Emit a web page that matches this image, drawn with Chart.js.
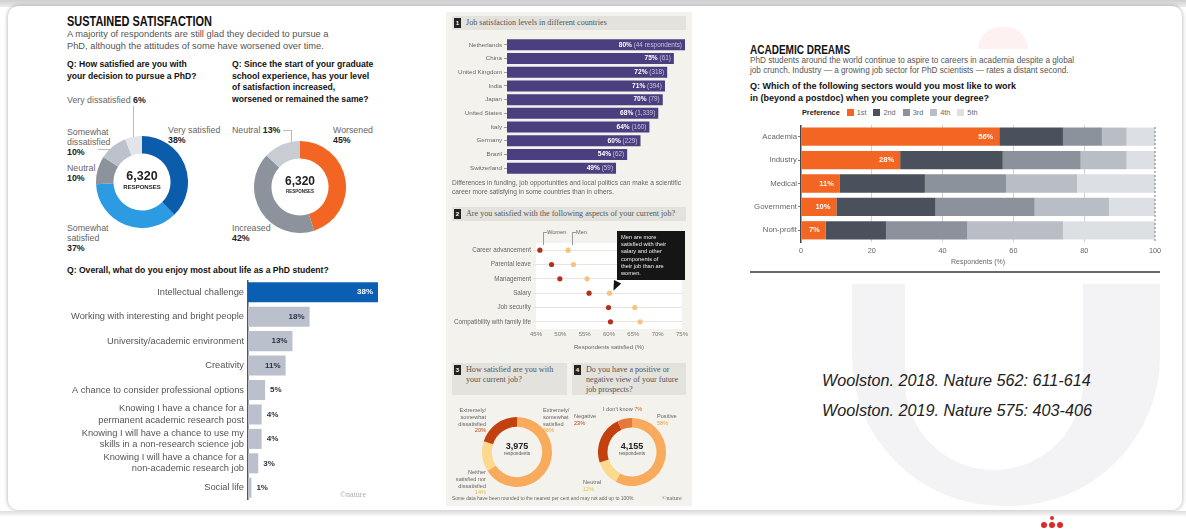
<!DOCTYPE html>
<html lang="en">
<head>
<meta charset="UTF-8">
<title>PhD satisfaction</title>
<script src="https://cdn.jsdelivr.net/npm/chart.js"></script>
<style>
  body { margin:0; width:1186px; height:531px; background:#fff; position:relative; overflow:hidden;
         font-family:"Liberation Sans", Arial, sans-serif; color:#222; }
  .abs { position:absolute; }
  .topband { left:0; top:0; width:1186px; height:7px; background:linear-gradient(#cfcfd2,#eee); }
  .card { left:8px; top:6px; width:1174px; height:504px; border-radius:10px; background:#fff;
          box-shadow:0 0 4px rgba(0,0,0,.35); }
  .bigtitle { font-family:"Liberation Sans",Arial,sans-serif; font-weight:bold; color:#111;
              transform-origin:left top; white-space:nowrap; }
  .sub { font-size:9.3px; line-height:11.7px; color:#555; white-space:nowrap; }
  .q { font-size:8.6px; line-height:11.5px; font-weight:bold; color:#111; white-space:nowrap; }
  .lab { font-size:8.8px; line-height:10.2px; color:#666; white-space:nowrap; }
  .lab b { color:#222; }
  .line { background:#bbb; }
  .centre { text-align:center; font-weight:bold; color:#222; }
  .mid { left:446px; top:12px; width:246px; height:494px; background:#f4f2ed; }
  .band { background:#e4e2dd; font-family:"Liberation Serif",serif; font-size:8.1px; line-height:10px; color:#555; white-space:nowrap; }
  .num { position:absolute; left:2px; top:2px; width:7px; height:10px; background:#222; color:#fff;
         font-size:6px; line-height:10px; text-align:center; font-family:"Liberation Sans",sans-serif; font-weight:bold; }
  .foot { font-size:6.6px; line-height:8.6px; color:#666; white-space:nowrap; }
  .tiny { font-size:5.6px; line-height:6.8px; color:#666; white-space:nowrap; }
  .callout { left:617px; top:231px; width:60px; height:43px; background:#151515; color:#eee;
             font-size:5.7px; line-height:7.2px; padding:3px 4px; white-space:nowrap; }
  .ref { font-style:italic; font-size:16.2px; color:#222; white-space:nowrap; }
  .sw { display:inline-block; width:7px; height:7px; margin:0 3px 0 7px; vertical-align:-1px; }
</style>
</head>
<body>
<div class="abs topband"></div>
<div class="abs card"></div>

<!-- faint logo watermark -->
<div class="abs" style="left:978px;top:27px;width:50px;height:22px;border-radius:25px 25px 0 0;background:#fdf1f1;"></div>
<div class="abs" style="left:852px;top:284px;width:308px;height:222px;border-radius:0 0 150px 150px;background:#f3f3f5;"></div>
<div class="abs" style="left:905px;top:284px;width:178px;height:186px;border-radius:0 0 90px 90px;background:#fff;"></div>

<!-- left panel -->
<div class="abs bigtitle" style="left:67px;top:12px;font-size:15px;transform:scaleX(0.73);">SUSTAINED SATISFACTION</div>
<div class="abs sub" style="left:67px;top:29px;">A majority of respondents are still glad they decided to pursue a<br>PhD, although the attitudes of some have worsened over time.</div>
<div class="abs q" style="left:67px;top:59px;">Q: How satisfied are you with<br>your decision to pursue a PhD?</div>
<div class="abs q" style="left:232px;top:59px;">Q: Since the start of your graduate<br>school experience, has your level<br>of satisfaction increased,<br>worsened or remained the same?</div>

<div class="abs lab" style="left:67px;top:95px;">Very dissatisfied <b>6%</b></div>
<div class="abs line" style="left:133px;top:106px;width:1px;height:42px;"></div>
<div class="abs lab" style="left:67px;top:127px;">Somewhat<br>dissatisfied<br><b>10%</b></div>
<div class="abs line" style="left:98px;top:149px;width:12px;height:1px;"></div>
<div class="abs lab" style="left:67px;top:163px;">Neutral<br><b>10%</b></div>
<div class="abs lab" style="left:67px;top:223px;">Somewhat<br>satisfied<br><b>37%</b></div>
<div class="abs lab" style="left:168px;top:125px;">Very satisfied<br><b>38%</b></div>

<div class="abs lab" style="left:232px;top:125px;">Neutral <b>13%</b></div>
<div class="abs line" style="left:283px;top:130px;width:8px;height:1px;"></div>
<div class="abs line" style="left:291px;top:130px;width:1px;height:12px;"></div>
<div class="abs lab" style="left:333px;top:125px;">Worsened<br><b>45%</b></div>
<div class="abs lab" style="left:232px;top:223px;">Increased<br><b>42%</b></div>

<canvas id="cSat" class="abs" width="92" height="92" style="left:96px;top:136px;"></canvas>
<div class="abs centre" style="left:112px;top:170px;width:60px;font-size:12.5px;line-height:13px;">6,320</div>
<div class="abs centre" style="left:112px;top:184px;width:60px;font-size:6px;">RESPONSES</div>
<canvas id="cChange" class="abs" width="92" height="92" style="left:254px;top:141px;"></canvas>
<div class="abs centre" style="left:270px;top:175px;width:60px;font-size:12px;line-height:13px;">6,320</div>
<div class="abs centre" style="left:270px;top:189px;width:60px;font-size:4.5px;">RESPONSES</div>

<div class="abs q" style="left:67px;top:265px;">Q: Overall, what do you enjoy most about life as a PhD student?</div>
<canvas id="cEnjoy" class="abs" width="318" height="220" style="left:60px;top:280px;"></canvas>
<div class="abs" style="left:340px;top:490px;font-family:'Liberation Serif',serif;font-size:8px;color:#aaa;">©nature</div>

<!-- middle panel -->
<div class="abs mid"></div>
<div class="abs band" style="left:452px;top:16px;width:220px;height:14px;padding-left:14px;line-height:14px;"><span class="num">1</span>Job satisfaction levels in different countries</div>
<canvas id="cCountry" class="abs" width="240" height="137" style="left:445px;top:38px;"></canvas>
<div class="abs foot" style="left:452px;top:179px;">Differences in funding, job opportunities and local politics can make a scientific<br>career more satisfying in some countries than in others.</div>

<div class="abs band" style="left:452px;top:207px;width:220px;height:14px;padding-left:14px;line-height:14px;"><span class="num">2</span>Are you satisfied with the following aspects of your current job?</div>
<canvas id="cAspect" class="abs" width="246" height="112" style="left:445px;top:243px;"></canvas>
<div class="abs tiny" style="left:547px;top:229px;">Women</div>
<div class="abs tiny" style="left:576px;top:229px;">Men</div>
<div class="abs line" style="left:543px;top:232px;width:4px;height:1px;background:#999;"></div>
<div class="abs line" style="left:543px;top:232px;width:1px;height:13px;background:#999;"></div>
<div class="abs line" style="left:572px;top:232px;width:4px;height:1px;background:#999;"></div>
<div class="abs line" style="left:572px;top:232px;width:1px;height:13px;background:#999;"></div>
<div class="abs callout">Men are more<br>satisfied with their<br>salary and other<br>components of<br>their job than are<br>women.</div>
<div class="abs" style="left:614px;top:280px;width:0;height:0;border-left:4px solid transparent;border-right:4px solid transparent;border-top:10px solid #151515;transform:rotate(25deg);transform-origin:top left;"></div>

<div class="abs band" style="left:452px;top:363px;width:101px;height:30px;padding:2px 0 0 14px;"><span class="num">3</span>How satisfied are you with<br>your current job?</div>
<div class="abs band" style="left:572px;top:363px;width:100px;height:30px;padding:2px 0 0 14px;"><span class="num">4</span>Do you have a positive or<br>negative view of your future<br>job prospects?</div>

<canvas id="cJob" class="abs" width="70" height="70" style="left:482px;top:417px;"></canvas>
<div class="abs centre" style="left:492px;top:441px;width:50px;font-size:9px;line-height:10px;">3,975</div>
<div class="abs centre" style="left:492px;top:451px;width:50px;font-size:4.8px;font-weight:normal;color:#555;">respondents</div>
<div class="abs tiny" style="left:450px;top:407px;width:36px;text-align:right;">Extremely/<br>somewhat<br>dissatisfied<br><span style="color:#c0440f;">20%</span></div>
<div class="abs tiny" style="left:543px;top:407px;">Extremely/<br>somewhat<br>satisfied<br><span style="color:#e7a23a;">66%</span></div>
<div class="abs tiny" style="left:450px;top:469px;width:36px;text-align:right;">Neither<br>satisfied nor<br>dissatisfied<br><span style="color:#e8c04a;">14%</span></div>

<canvas id="cProspect" class="abs" width="68" height="68" style="left:598px;top:418px;"></canvas>
<div class="abs centre" style="left:607px;top:441px;width:50px;font-size:9px;line-height:10px;">4,155</div>
<div class="abs centre" style="left:607px;top:451px;width:50px;font-size:4.8px;font-weight:normal;color:#555;">respondents</div>
<div class="abs tiny" style="left:603px;top:406px;">I don't know <span style="color:#d0602a;">7%</span></div>
<div class="abs tiny" style="left:574px;top:413px;">Negative<br><span style="color:#c0440f;">23%</span></div>
<div class="abs tiny" style="left:657px;top:413px;">Positive<br><span style="color:#e7a23a;">58%</span></div>
<div class="abs tiny" style="left:583px;top:479px;">Neutral<br><span style="color:#e8c04a;">12%</span></div>
<div class="abs tiny" style="left:452px;top:496px;font-size:4.9px;">Some data have been rounded to the nearest per cent and may not add up to 100%.</div>
<div class="abs tiny" style="left:662px;top:495px;font-family:'Liberation Serif',serif;font-size:6px;">©nature</div>

<!-- right panel -->
<div class="abs bigtitle" style="left:750px;top:42px;font-size:13px;transform:scaleX(0.77);">ACADEMIC DREAMS</div>
<div class="abs sub" style="left:750px;top:56px;font-size:8.2px;line-height:10px;">PhD students around the world continue to aspire to careers in academia despite a global<br>job crunch. Industry — a growing job sector for PhD scientists — rates a distant second.</div>
<div class="abs q" style="left:750px;top:80px;font-size:9px;line-height:12px;">Q: Which of the following sectors would you most like to work<br>in (beyond a postdoc) when you complete your degree?</div>
<div class="abs" id="legend" style="left:802px;top:108px;font-size:7.3px;color:#666;white-space:nowrap;"></div>
<canvas id="cSector" class="abs" width="430" height="145" style="left:740px;top:125px;"></canvas>
<div class="abs" style="left:750px;top:271px;width:410px;height:2px;background:#6a6a6a;"></div>

<div class="abs ref" style="left:822px;top:371px;">Woolston. 2018. Nature 562: 611-614</div>
<div class="abs ref" style="left:822px;top:401px;">Woolston. 2019. Nature 575: 403-406</div>

<!-- bottom logo dots -->
<div class="abs" style="left:0;top:511px;width:1186px;height:20px;background:linear-gradient(#ddd,#fff 6px);"></div>
<div class="abs" style="left:1041px;top:522px;width:6px;height:6px;border-radius:50%;background:#e02828;"></div>
<div class="abs" style="left:1049px;top:522px;width:6px;height:6px;border-radius:50%;background:#e02828;"></div>
<div class="abs" style="left:1057px;top:522px;width:6px;height:6px;border-radius:50%;background:#e02828;"></div>
<div class="abs" style="left:1050px;top:516px;width:4px;height:4px;border-radius:50%;background:#e02828;"></div>

<script>
// ---- data ----
const satLabels = ['Very satisfied', 'Somewhat satisfied', 'Neutral', 'Somewhat dissatisfied', 'Very dissatisfied'];
const satValues = [38, 37, 10, 10, 6];
const changeLabels = ['Worsened', 'Increased', 'Neutral'];
const changeValues = [45, 42, 13];

const enjoyLabels = [
  'Intellectual challenge',
  'Working with interesting and bright people',
  'University/academic environment',
  'Creativity',
  'A chance to consider professional options',
  ['Knowing I have a chance for a', 'permanent academic research post'],
  ['Knowing I will have a chance to use my', 'skills in a non-research science job'],
  ['Knowing I will have a chance for a', 'non-academic research job'],
  'Social life'
];
const enjoyValues = [38, 18, 13, 11, 5, 4, 4, 3, 1];

const countryLabels = ['Netherlands', 'China', 'United Kingdom', 'India', 'Japan', 'United States', 'Italy', 'Germany', 'Brazil', 'Switzerland'];
const countryValues = [80, 75, 72, 71, 70, 68, 64, 60, 54, 49];
const countryCounts = ['44 respondents', '61', '318', '394', '79', '1,339', '160', '229', '62', '59'];

const aspectLabels = ['Career advancement', 'Parental leave', 'Management', 'Salary', 'Job security', 'Compatibility with family life'];
const womenValues = [45.8, 48.2, 49.9, 55.9, 59.9, 60.3];
const menValues = [51.6, 52.7, 55.5, 60.1, 65.3, 66.4];
const aspectTicks = [45, 50, 55, 60, 65, 70, 75];

const jobLabels = ['Extremely/somewhat satisfied', 'Neither satisfied nor dissatisfied', 'Extremely/somewhat dissatisfied'];
const jobValues = [66, 14, 20];
const prospectLabels = ['Positive', 'Neutral', 'Negative', "I don't know"];
const prospectValues = [58, 12, 23, 7];

const sectorLabels = ['Academia', 'Industry', 'Medical', 'Government', 'Non-profit'];
const prefLabels = ['1st', '2nd', '3rd', '4th', '5th'];
const pref1st = [56, 28, 11, 10, 7];
const pref2nd = [18, 29, 24, 28, 17];
const pref3rd = [11, 22, 23, 28, 23];
const pref4th = [7, 13, 20, 21, 27];
const pref5th = [8, 8, 22, 13, 26];
const sectorTicks = [0, 20, 40, 60, 80, 100];

// ---- colours ----
const satColors = ['#0b5cab', '#2d9be2', '#8d939d', '#bcc2cb', '#e1e4ea'];
const changeColors = ['#f26522', '#8d939d', '#c8cdd4'];
const warmColors = ['#f8ab5c', '#fcd98c', '#c3410f', '#e5783a'];
const prefColors = ['#f26522', '#4b515c', '#8c929c', '#b9bec6', '#dcdfe4'];

Chart.defaults.font.family = '"Liberation Sans", Arial, sans-serif';
Chart.defaults.animation = false;
Chart.defaults.plugins.legend.display = false;
Chart.defaults.plugins.tooltip.enabled = false;

// keep chart areas exactly where the canvases put them
const noPadY = w => s => { s.width = w; s.paddingTop = 0; s.paddingBottom = 0; };
const noPadX = h => s => { if (h !== undefined) s.height = h; s.paddingLeft = 0; s.paddingRight = 0; };

function donut(id, labels, values, colors, cutout) {
  return new Chart(document.getElementById(id), {
    type: 'doughnut',
    data: { labels: labels, datasets: [{ data: values, backgroundColor: colors, borderWidth: 0 }] },
    options: { responsive: false, cutout: cutout, layout: { padding: 0 } }
  });
}
donut('cSat', satLabels, satValues, satColors, '62%');
donut('cChange', changeLabels, changeValues, changeColors, '62%');
donut('cJob', jobLabels, jobValues, warmColors.slice(0, 3), '72%');
donut('cProspect', prospectLabels, prospectValues, warmColors, '72%');

// enjoy bars
new Chart(document.getElementById('cEnjoy'), {
  type: 'bar',
  data: {
    labels: enjoyLabels,
    datasets: [{
      data: enjoyValues,
      backgroundColor: enjoyValues.map((v, i) => i === 0 ? '#0b5fb3' : '#bac1cd'),
      barPercentage: 0.82, categoryPercentage: 1
    }]
  },
  options: {
    responsive: false, indexAxis: 'y',
    layout: { padding: 0, autoPadding: false },
    scales: {
      x: { display: false, min: 0, max: 38 },
      y: {
        afterFit: noPadY(188),
        grid: { display: false, drawTicks: false },
        border: { display: true, color: '#555', width: 1.5 },
        ticks: { color: '#555', font: { size: 9.3, lineHeight: 1.2 }, padding: 4, autoSkip: false }
      }
    }
  },
  plugins: [{
    id: 'enjoyText',
    afterDatasetsDraw(chart) {
      const ctx = chart.ctx;
      ctx.save();
      ctx.font = 'bold 8px "Liberation Sans", Arial';
      ctx.textBaseline = 'middle';
      chart.getDatasetMeta(0).data.forEach((bar, i) => {
        const v = enjoyValues[i];
        if (v >= 10) {
          ctx.textAlign = 'right';
          ctx.fillStyle = i === 0 ? '#fff' : '#2c3340';
          ctx.fillText(v + '%', bar.x - 5, bar.y);
        } else {
          ctx.textAlign = 'left';
          ctx.fillStyle = '#2c3340';
          ctx.fillText(v + '%', bar.x + 5, bar.y);
        }
      });
      ctx.restore();
    }
  }]
});

// countries
new Chart(document.getElementById('cCountry'), {
  type: 'bar',
  data: { labels: countryLabels, datasets: [{ data: countryValues, backgroundColor: '#4b3f7f', barPercentage: 0.8, categoryPercentage: 1 }] },
  options: {
    responsive: false, indexAxis: 'y',
    layout: { autoPadding: false },
    scales: {
      x: { display: false, min: 0, max: 80 },
      y: {
        afterFit: noPadY(62),
        grid: { display: true, drawOnChartArea: false, offset: false, tickLength: 3, color: '#999' },
        border: { display: false },
        ticks: { color: '#666', font: { size: 6.2 }, padding: 2, autoSkip: false }
      }
    }
  },
  plugins: [{
    id: 'countryText',
    afterDatasetsDraw(chart) {
      const ctx = chart.ctx;
      ctx.save();
      ctx.textBaseline = 'middle';
      ctx.textAlign = 'right';
      chart.getDatasetMeta(0).data.forEach((bar, i) => {
        const tail = ' (' + countryCounts[i] + ')';
        ctx.font = '6.4px "Liberation Sans", Arial';
        ctx.fillStyle = '#c9c3e0';
        ctx.fillText(tail, bar.x - 3, bar.y);
        const w = ctx.measureText(tail).width;
        ctx.font = 'bold 6.6px "Liberation Sans", Arial';
        ctx.fillStyle = '#fff';
        ctx.fillText(countryValues[i] + '%', bar.x - 3 - w, bar.y);
      });
      ctx.restore();
    }
  }]
});

// job aspects dot plot
new Chart(document.getElementById('cAspect'), {
  type: 'scatter',
  data: {
    labels: aspectLabels,
    datasets: [
      { label: 'Women', data: womenValues.map((v, i) => ({ x: v, y: aspectLabels[i] })), backgroundColor: '#b3311c', pointRadius: 2.6, borderWidth: 0 },
      { label: 'Men', data: menValues.map((v, i) => ({ x: v, y: aspectLabels[i] })), backgroundColor: '#f6c47e', pointRadius: 2.6, borderWidth: 0 }
    ]
  },
  options: {
    responsive: false,
    layout: { padding: { right: 9 }, autoPadding: false },
    scales: {
      x: {
        min: 45, max: 75,
        afterFit: noPadX(26),
        afterBuildTicks: s => { s.ticks = aspectTicks.map(v => ({ value: v })); },
        grid: { display: false, drawTicks: false },
        border: { display: false },
        ticks: { color: '#777', font: { size: 6 }, padding: 2, autoSkip: false, maxRotation: 0, callback: v => v + '%' },
        title: { display: true, text: 'Respondents satisfied (%)', color: '#666', font: { size: 6 }, padding: { top: 5 } }
      },
      y: {
        type: 'category', labels: aspectLabels, offset: true,
        afterFit: noPadY(91),
        grid: { color: '#e6e4df', offset: false, drawTicks: true, tickLength: 3 },
        border: { display: false },
        ticks: { color: '#666', font: { size: 6.3 }, padding: 2, autoSkip: false }
      }
    }
  },
  plugins: [{
    id: 'whiteArea',
    beforeDraw(chart) {
      const a = chart.chartArea, ctx = chart.ctx;
      ctx.save();
      ctx.fillStyle = '#fff';
      ctx.fillRect(a.left, a.top, a.right - a.left, a.bottom - a.top);
      ctx.restore();
    }
  }]
});

// sector preferences
const prefData = [pref1st, pref2nd, pref3rd, pref4th, pref5th];
new Chart(document.getElementById('cSector'), {
  type: 'bar',
  data: {
    labels: sectorLabels,
    datasets: prefData.map((d, i) => ({ label: prefLabels[i], data: d, backgroundColor: prefColors[i], barPercentage: 0.78, categoryPercentage: 1 }))
  },
  options: {
    responsive: false, indexAxis: 'y',
    layout: { padding: { right: 15 }, autoPadding: false },
    scales: {
      x: {
        stacked: true, min: 0, max: 100,
        afterFit: noPadX(28),
        afterBuildTicks: s => { s.ticks = sectorTicks.map(v => ({ value: v })); },
        grid: { color: c => (c.tick && (c.tick.value === 0 || c.tick.value === 100)) ? 'transparent' : '#d2d2d2', drawTicks: false },
        border: { display: false },
        ticks: { color: '#666', font: { size: 7.3 }, padding: 5, autoSkip: false, maxRotation: 0 },
        title: { display: true, text: 'Respondents (%)', color: '#666', font: { size: 7 }, padding: { top: 0 } }
      },
      y: {
        stacked: true,
        afterFit: noPadY(61),
        grid: { display: true, drawOnChartArea: false, offset: false, tickLength: 3, color: '#777' },
        border: { display: true, color: '#444', width: 1.5 },
        ticks: { color: '#666', font: { size: 7.8 }, padding: 1, autoSkip: false }
      }
    }
  },
  plugins: [{
    id: 'sectorText',
    afterDatasetsDraw(chart) {
      const ctx = chart.ctx, a = chart.chartArea;
      ctx.save();
      const x100 = chart.scales.x.getPixelForValue(100);
      ctx.strokeStyle = '#777'; ctx.lineWidth = 1; ctx.setLineDash([2, 2]);
      ctx.beginPath(); ctx.moveTo(x100, a.top - 6); ctx.lineTo(x100, a.bottom); ctx.stroke();
      ctx.setLineDash([]);
      ctx.font = 'bold 7.5px "Liberation Sans", Arial';
      ctx.fillStyle = '#fff'; ctx.textAlign = 'right'; ctx.textBaseline = 'middle';
      chart.getDatasetMeta(0).data.forEach((bar, i) => {
        ctx.fillText(pref1st[i] + '%', bar.x - 6, bar.y);
      });
      ctx.restore();
    }
  }]
});

// legend
const leg = document.getElementById('legend');
leg.innerHTML = '<b style="color:#222">Preference</b>' + prefLabels.map((l, i) =>
  '<span class="sw" style="background:' + prefColors[i] + '"></span>' + l).join('');
</script>
</body>
</html>
